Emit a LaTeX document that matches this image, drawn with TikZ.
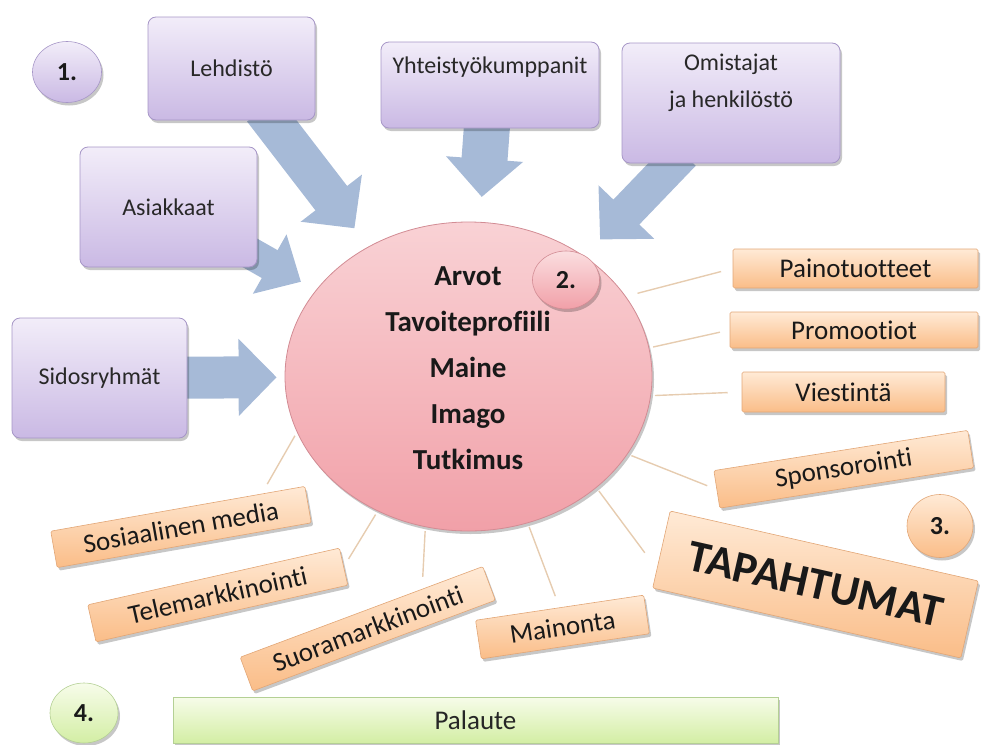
\documentclass[tikz,border=0pt]{standalone}
\usepackage{fontspec}
\setmainfont[Ligatures=NoCommon]{Carlito}
\usetikzlibrary{shapes.geometric,shadows,arrows.meta,backgrounds,calc,positioning}
\definecolor{lilaT}{RGB}{242,237,249}
\definecolor{lilaB}{RGB}{202,185,228}
\definecolor{lilaR}{RGB}{166,150,199}
\definecolor{oranT}{RGB}{255,234,214}
\definecolor{oranB}{RGB}{250,189,136}
\definecolor{oranR}{RGB}{226,166,118}
\definecolor{vihrT}{RGB}{247,252,234}
\definecolor{vihrB}{RGB}{211,238,164}
\definecolor{vihrR}{RGB}{180,208,148}
\definecolor{punaT}{RGB}{251,222,224}
\definecolor{punaB}{RGB}{241,160,168}
\definecolor{punaR}{RGB}{210,140,148}
\definecolor{nuoli}{RGB}{166,186,215}
\definecolor{viiva}{RGB}{230,204,176}
\definecolor{teksti}{RGB}{40,40,40}

\begin{document}
\begin{tikzpicture}[x=1pt,y=-1pt,
  varjo/.style={drop shadow={shadow xshift=2pt,shadow yshift=-3pt,opacity=.22,fill=black}},
  ryhma/.style={rectangle,rounded corners=8pt,draw=lilaR,line width=.8pt,top color=lilaT,bottom color=lilaB,varjo,
    inner sep=0pt,text=teksti,font=\fontsize{24}{37}\selectfont,align=center},
  rteksti/.style={text=teksti,font=\fontsize{24}{37}\selectfont,align=center},
  keino/.style={rectangle,rounded corners=1.5pt,draw=oranR,line width=.6pt,top color=oranT,bottom color=oranB,varjo,
    inner sep=0pt,text=black!90,font=\fontsize{27}{32}\selectfont},
  palkki/.style={rectangle,draw=vihrR,line width=.6pt,top color=vihrT,bottom color=vihrB,varjo,
    inner sep=0pt,text=black!85,font=\fontsize{27}{32}\selectfont},
  pallo/.style={ellipse,draw=#1R,line width=.6pt,top color=#1T,bottom color=#1B,varjo,
    inner sep=0pt,text=black!90,font=\bfseries\fontsize{26}{30}\selectfont},
  nuolet/.style={draw=nuoli,line width=40pt,-{Triangle[width=75pt,length=38pt]},shorten <=-14pt},
  linkki/.style={draw=viiva,line width=1.4pt,shorten <=4pt}]
\useasboundingbox (0,0) rectangle (984,744);

\node[ryhma,minimum width=167pt,minimum height=103pt] (lehd) at (231.5,68.5) {Lehdistö};
\node[ryhma,minimum width=218pt,minimum height=86pt] (yht) at (490,85) {};
\node[rteksti] (yhtt) at ([yshift=-25pt]yht.north) {Yhteistyökumppanit};
\node[ryhma,minimum width=218pt,minimum height=120pt] (omis) at (731,103) {};
\node[rteksti] (omist) at ([yshift=-40.5pt]omis.north) {Omistajat\\ja henkilöstö};
\node[ryhma,minimum width=177pt,minimum height=120pt] (asia) at (168.5,207) {Asiakkaat};
\node[ryhma,minimum width=175pt,minimum height=120pt] (sido) at (99.5,378) {Sidosryhmät};

\node[ellipse,draw=punaR,line width=.8pt,top color=punaT!80!punaB,bottom color=punaB,varjo,
  minimum width=367pt,minimum height=309pt,inner sep=0pt] (keski) at (468.5,376.5) {};
\node[align=center,text=black!90,font=\bfseries\fontsize{29}{46}\selectfont] (arvot) at (468,368)
  {Arvot\\Tavoiteprofiili\\Maine\\Imago\\Tutkimus};

\node[pallo=lila,minimum width=69pt,minimum height=61pt] (yksi) at (67,72) {1.};
\node[pallo=puna,minimum width=67pt,minimum height=58pt] (kaksi) at (566,280) {2.};
\node[pallo=oran,minimum width=66pt,minimum height=63pt] (kolme) at (940,526) {3.};
\node[pallo=vihr,minimum width=68pt,minimum height=60pt] (nelja) at (84,713) {4.};

\node[keino,minimum width=245pt,minimum height=39pt] (paino) at (855.5,268.5) {Painotuotteet};
\node[keino,minimum width=248pt,minimum height=36pt] (promo) at (854,330) {Promootiot};
\node[keino,minimum width=203pt,minimum height=40pt] (viest) at (843.5,392) {Viestintä};
\node[keino,minimum width=257pt,minimum height=38pt,rotate=9] (spons) at (843.75,469.25) {Sponsorointi};
\node[keino,minimum width=316pt,minimum height=79pt,rotate=-12.8,font=\bfseries\fontsize{45}{50}\selectfont] (tapaht) at (815.5,584.5) {TAPAHTUMAT};
\node[keino,minimum width=170pt,minimum height=39pt,rotate=8.5] (mainon) at (562.5,627) {Mainonta};
\node[keino,minimum width=259pt,minimum height=36pt,rotate=20.5] (suora) at (367.75,628.75) {Suoramarkkinointi};
\node[keino,minimum width=258pt,minimum height=38pt,rotate=12.7] (tele) at (217.75,595) {Telemarkkinointi};
\node[keino,minimum width=258pt,minimum height=37pt,rotate=10] (sosme) at (181,527) {Sosiaalinen media};

\node[palkki,minimum width=605pt,minimum height=46pt] (palaute) at (475.5,720) {Palaute};

\begin{scope}[on background layer]
\draw[nuolet,shorten >=23pt] (lehd) -- (keski);
\draw[nuolet,line width=32pt,-{Triangle[width=66pt,length=36pt]},shorten >=17pt] (asia) -- (keski);
\draw[nuolet,line width=46pt,shorten >=25pt] (yht) -- (keski);
\draw[nuolet,line width=36pt,shorten >=23pt] (omis) -- (keski);
\draw[nuolet,line width=42pt,shorten >=8pt] (sido) -- (keski);

\draw[linkki,shorten <=12pt,shorten >=12pt] (keski.27) -- (paino.west);
\draw[linkki,shorten >=10pt] (keski.9) -- (promo.west);
\draw[linkki,shorten >=14pt] (keski.-6) -- (viest.west);
\draw[linkki,shorten >=10pt] (keski.-26) -- (spons.west);
\draw[linkki,shorten >=20pt] (keski.-41) -- ($(tapaht.west)!.5!(tapaht.south west)$);
\draw[linkki,shorten >=12pt] (keski.-68) -- (mainon.north);
\draw[linkki,shorten >=12pt] (keski.-106) -- ($(suora.north)!.5!(suora.north east)$);
\draw[linkki,shorten >=9pt] (keski.-124) -- (tele.east);
\draw[linkki,shorten >=11pt] (keski.-162) -- ($(sosme.north)!.66!(sosme.north east)$);
\end{scope}
\end{tikzpicture}
\end{document}
